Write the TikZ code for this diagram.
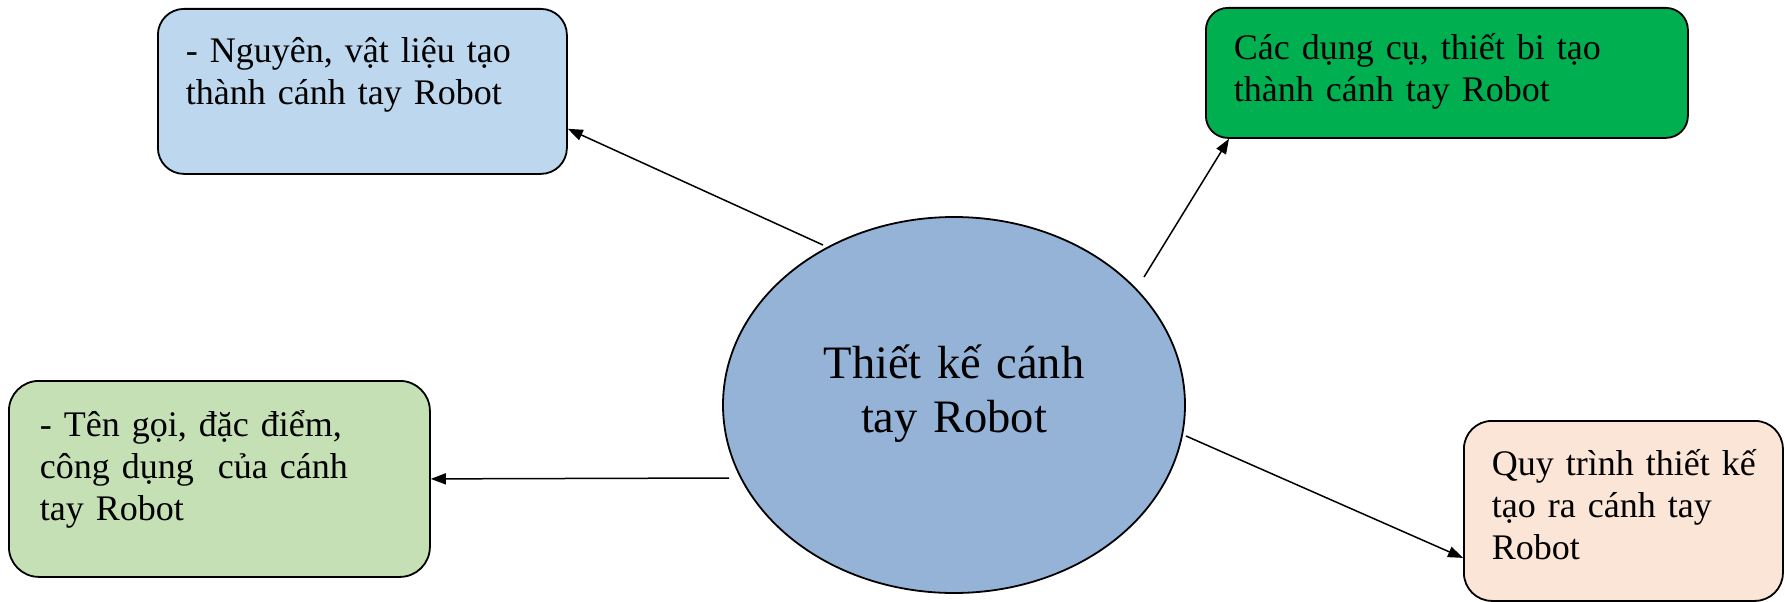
\documentclass[tikz,border=0pt]{standalone}
\usepackage{fontspec}
\setmainfont{Liberation Serif}
\usetikzlibrary{shapes.geometric,arrows.meta,calc}
\definecolor{topicblue}{HTML}{95B3D7}
\definecolor{paleblue}{HTML}{BDD7EE}
\definecolor{deepgreen}{HTML}{00B050}
\definecolor{palegreen}{HTML}{C5E0B4}
\definecolor{palepeach}{HTML}{FBE5D6}

\begin{document}
\begin{tikzpicture}[x=1pt,y=-1pt,
  idea/.style={draw,line width=1.8pt,anchor=north west,align=left,inner ysep=0pt,font=\fontsize{36}{42}\selectfont},
  link/.style={line width=1.5pt,-{Triangle[length=15pt,width=11pt]}}]
\useasboundingbox (0,0) rectangle (1785,602);

\draw (954,405) node (topic) [ellipse,draw,line width=1.8pt,fill=topicblue,minimum width=462pt,minimum height=376pt,inner sep=0pt,text width=300pt,align=center,text height=53pt,text depth=107pt,font=\fontsize{46.5}{54}\selectfont] {Thiết kế cánh\\tay Robot};

\draw (157,8) node (parts) [idea,fill=paleblue,rounded corners=26pt,inner xsep=28pt,text width=353pt,text height=54pt,text depth=111pt] {- Nguyên, vật liệu tạo\\thành cánh tay Robot};
\draw (1205,7) node (tools) [idea,fill=deepgreen,rounded corners=22pt,inner xsep=28pt,text width=426pt,text height=52pt,text depth=78pt] {Các dụng cụ, thiết bi tạo\\thành cánh tay Robot};
\draw (8,380) node (names) [idea,fill=palegreen,rounded corners=30pt,inner xsep=31pt,text width=359pt,text height=56pt,text depth=140pt] {- Tên gọi, đặc điểm,\\công dụng~ của cánh\\tay Robot};
\draw (1463,420) node (steps) [idea,fill=palepeach,rounded corners=28pt,inner xsep=28pt,text width=263pt,text height=55pt,text depth=125pt] {\mbox{Quy trình thiết kế}\\tạo ra cánh tay\\Robot};

\coordinate (f1) at (823,245);
\coordinate (f2) at (1144,277);
\coordinate (f3) at (729,478);
\coordinate (f4) at (1186,436);

\draw[link] (f1) -- ($(parts.south east)+(0,-46)$);
\draw[link] (f2) -- ($(tools.south west)+(24,0)$);
\draw[link] (f3) -- (names.east);
\draw[link] (f4) -- ($(steps.west)+(0,47)$);
\end{tikzpicture}
\end{document}
